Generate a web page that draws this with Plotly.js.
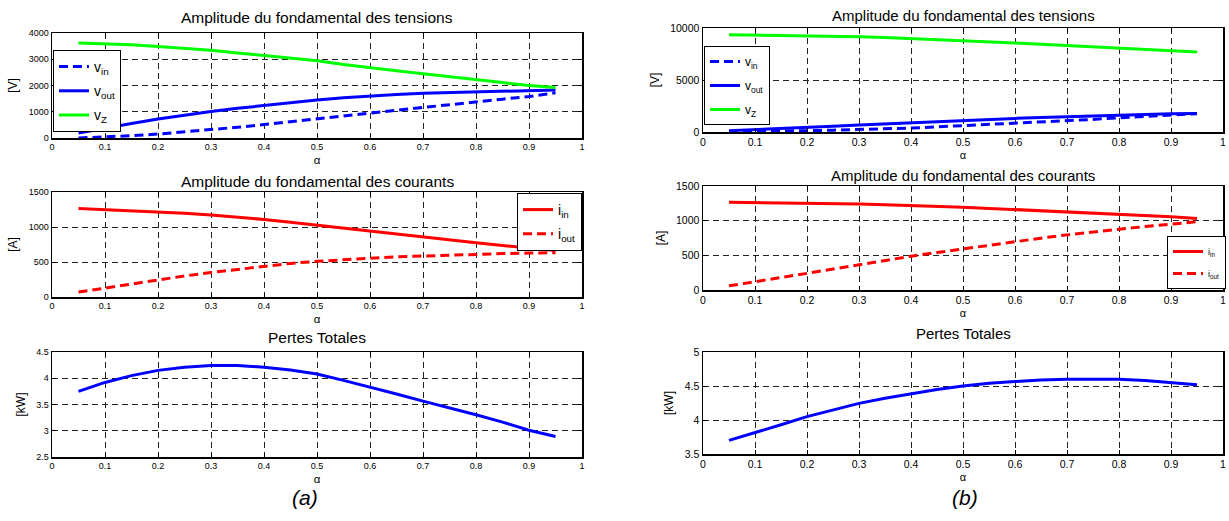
<!DOCTYPE html>
<html>
<head>
<meta charset="utf-8">
<script src="https://cdn.plot.ly/plotly-3.0.1.min.js"></script>
<style>html,body{margin:0;padding:0;background:#fff;}#chart{width:1229px;height:521px;}</style>
</head>
<body>
<div id="chart"></div>
<script>
// ---- data ----
const alpha = [0.05,0.10,0.15,0.20,0.25,0.30,0.35,0.40,0.45,0.50,0.55,0.60,0.65,0.70,0.75,0.80,0.85,0.90,0.95];

// (a)
const a_vin  = [0,40,90,150,230,320,410,510,610,720,835,950,1060,1170,1280,1385,1480,1580,1720];
const a_vout = [190,380,550,720,870,1010,1130,1240,1350,1450,1530,1600,1660,1705,1735,1760,1785,1805,1830];
const a_vz   = [3620,3595,3550,3490,3420,3340,3240,3140,3040,2940,2800,2670,2560,2450,2330,2220,2110,2000,1920];
const a_iin  = [1265,1250,1235,1215,1195,1170,1140,1108,1068,1025,985,943,900,855,815,775,735,700,665];
const a_iout = [70,130,190,250,300,350,395,440,480,510,535,560,575,585,600,612,620,627,632];
const a_loss = [3.75,3.92,4.05,4.15,4.21,4.245,4.245,4.21,4.155,4.08,3.96,3.835,3.70,3.565,3.44,3.305,3.165,3.01,2.89];

// (b)
const b_vin  = [20,40,85,130,175,220,300,380,495,610,720,830,940,1050,1210,1370,1500,1630,1760];
const b_vout = [130,220,330,440,555,670,780,895,1020,1150,1230,1310,1390,1470,1550,1630,1700,1760,1790];
const b_vz   = [9360,9330,9300,9265,9220,9170,9080,8980,8900,8820,8690,8560,8430,8310,8180,8050,7920,7800,7700];
const b_iin  = [1265,1262,1258,1255,1248,1240,1230,1220,1208,1193,1177,1160,1145,1130,1113,1096,1077,1057,1030];
const b_iout = [60,117,178,240,302,365,425,487,540,594,648,700,748,795,837,877,915,950,985];
const b_loss = [3.70,3.81,3.93,4.05,4.15,4.245,4.32,4.39,4.45,4.50,4.54,4.565,4.59,4.60,4.605,4.60,4.58,4.55,4.52];

const titleV = "Amplitude du fondamental des tensions";
const titleI = "Amplitude du fondamental des courants";
const titleP = "Pertes Totales";
const xLabel = "α";
const yLabels = ["[V]","[A]","[kW]"];
const nameVin = "v<sub>in</sub>", nameVout = "v<sub>out</sub>", nameVz = "v<sub>Z</sub>";
const nameIin = "i<sub>in</sub>", nameIout = "i<sub>out</sub>";
const panelLabels = ["(a)","(b)"];

// ---- styling ----
const W = 1229, H = 521;
const BLUE = "#0000ff", GREEN = "#00ff00", RED = "#ff0000";
const DASH = "9px,5px";
const LW = 3;
const FONT = "Liberation Sans, Arial, sans-serif";

function px2x(p){ return p / W; }
function px2y(p){ return 1 - p / H; }

function ln(x, y, color, dash, name, xa, ya, legend, show, grp){
  return {x:x, y:y, type:"scatter", mode:"lines", name:name,
    line:{color:color, width:LW, dash:dash||"solid"},
    xaxis:xa, yaxis:ya, legend:legend, showlegend:show, legendgroup:grp};
}

const traces = [
  ln(alpha,a_vin,BLUE,DASH,nameVin,"x","y","legend",true,"g1"),
  ln(alpha,a_vout,BLUE,"solid",nameVout,"x","y","legend",true,"g2"),
  ln(alpha,a_vz,GREEN,"solid",nameVz,"x","y","legend",true,"g3"),
  ln(alpha,a_iin,RED,"solid",nameIin,"x2","y2","legend2",true,"g4"),
  ln(alpha,a_iout,RED,DASH,nameIout,"x2","y2","legend2",true,"g5"),
  ln(alpha,a_loss,BLUE,"solid","loss a","x3","y3","legend",false,"g6"),
  ln(alpha,b_vin,BLUE,DASH,nameVin,"x4","y4","legend3",true,"g7"),
  ln(alpha,b_vout,BLUE,"solid",nameVout,"x4","y4","legend3",true,"g8"),
  ln(alpha,b_vz,GREEN,"solid",nameVz,"x4","y4","legend3",true,"g9"),
  ln(alpha,b_iin,RED,"solid",nameIin,"x5","y5","legend4",true,"g10"),
  ln(alpha,b_iout,RED,DASH,nameIout,"x5","y5","legend4",true,"g11"),
  ln(alpha,b_loss,BLUE,"solid","loss b","x6","y6","legend",false,"g12")
];

// pixel boxes [left, right, top, bottom]
const boxes = [
  [52,582,33,138],
  [52,582,192,297],
  [52,582,352,457],
  [703,1223,28,132],
  [703,1223,186,290],
  [703,1223,352,454]
];
const yr = [[0,4000,1000],[0,1500,500],[2.5,4.5,0.5],[0,10000,5000],[0,1500,500],[3.5,5,0.5]];
const yfmt = ["d","d","","d","d",""];

const layout = {
  width:W, height:H,
  margin:{l:0,r:0,t:0,b:0},
  paper_bgcolor:"#fff", plot_bgcolor:"#fff",
  font:{family:FONT, color:"#000"},
  annotations:[],
  showlegend:true
};

boxes.forEach((b,i)=>{
  const k = i+1;
  const right = i>=3;
  const tf = right ? 10.5 : 9;
  const xa = {
    domain:[px2x(b[0]), px2x(b[1])], anchor:"y"+k, range:[0,1], dtick:0.1, tick0:0,
    showline:true, linecolor:"#000", linewidth:1.5, mirror:"ticks",
    ticks:"inside", ticklen:4, tickcolor:"#000",
    showgrid:true, gridcolor:"#222", griddash:"6px,4px", gridwidth:1,
    zeroline:false, tickfont:{size:tf},
    title:{text:xLabel, font:{size:right?11:11.5}, standoff:4}
  };
  const ya = {
    domain:[px2y(b[3]), px2y(b[2])], anchor:"x"+k, range:[yr[i][0],yr[i][1]], dtick:yr[i][2],
    showline:true, linecolor:"#000", linewidth:1.5, mirror:"ticks",
    ticks:"inside", ticklen:4, tickcolor:"#000",
    showgrid:true, gridcolor:"#222", griddash:"6px,4px", gridwidth:1,
    zeroline:false, tickfont:{size:tf}, exponentformat:"none", tickformat:yfmt[i],
    title:{text:yLabels[i%3], font:{size:12}, standoff:8}
  };
  layout["xaxis"+(k===1?"":k)] = xa;
  layout["yaxis"+(k===1?"":k)] = ya;
});

const titles = [titleV,titleI,titleP,titleV,titleI,titleP];
const titleY = [18,181,337,15,175,333];
titles.forEach((t,i)=>{
  const b = boxes[i];
  layout.annotations.push({text:t, xref:"paper", yref:"paper",
    x:px2x((b[0]+b[1])/2), y:px2y(titleY[i]), xanchor:"center", yanchor:"middle",
    showarrow:false, font:{size:i<3?15.5:15}});
});
layout.annotations.push({text:"<i>"+panelLabels[0]+"</i>", xref:"paper", yref:"paper",
  x:px2x(305), y:px2y(497), xanchor:"center", yanchor:"middle", showarrow:false, font:{size:21}});
layout.annotations.push({text:"<i>"+panelLabels[1]+"</i>", xref:"paper", yref:"paper",
  x:px2x(965), y:px2y(497), xanchor:"center", yanchor:"middle", showarrow:false, font:{size:21}});

const legBase = {bgcolor:"#fff", bordercolor:"#000", borderwidth:1};
layout.legend  = Object.assign({}, legBase, {x:px2x(53), y:px2y(50), xanchor:"left", yanchor:"top", font:{size:14}, tracegroupgap:3});
layout.legend2 = Object.assign({}, legBase, {x:px2x(582), y:px2y(193), xanchor:"right", yanchor:"top", font:{size:14}, tracegroupgap:3});
layout.legend3 = Object.assign({}, legBase, {x:px2x(704), y:px2y(46), xanchor:"left", yanchor:"top", font:{size:12}, tracegroupgap:5});
layout.legend4 = Object.assign({}, legBase, {x:px2x(1226), y:px2y(289), xanchor:"right", yanchor:"bottom", font:{size:9}, tracegroupgap:3});

Plotly.newPlot("chart", traces, layout, {displayModeBar:false, staticPlot:true});
</script>
</body>
</html>
